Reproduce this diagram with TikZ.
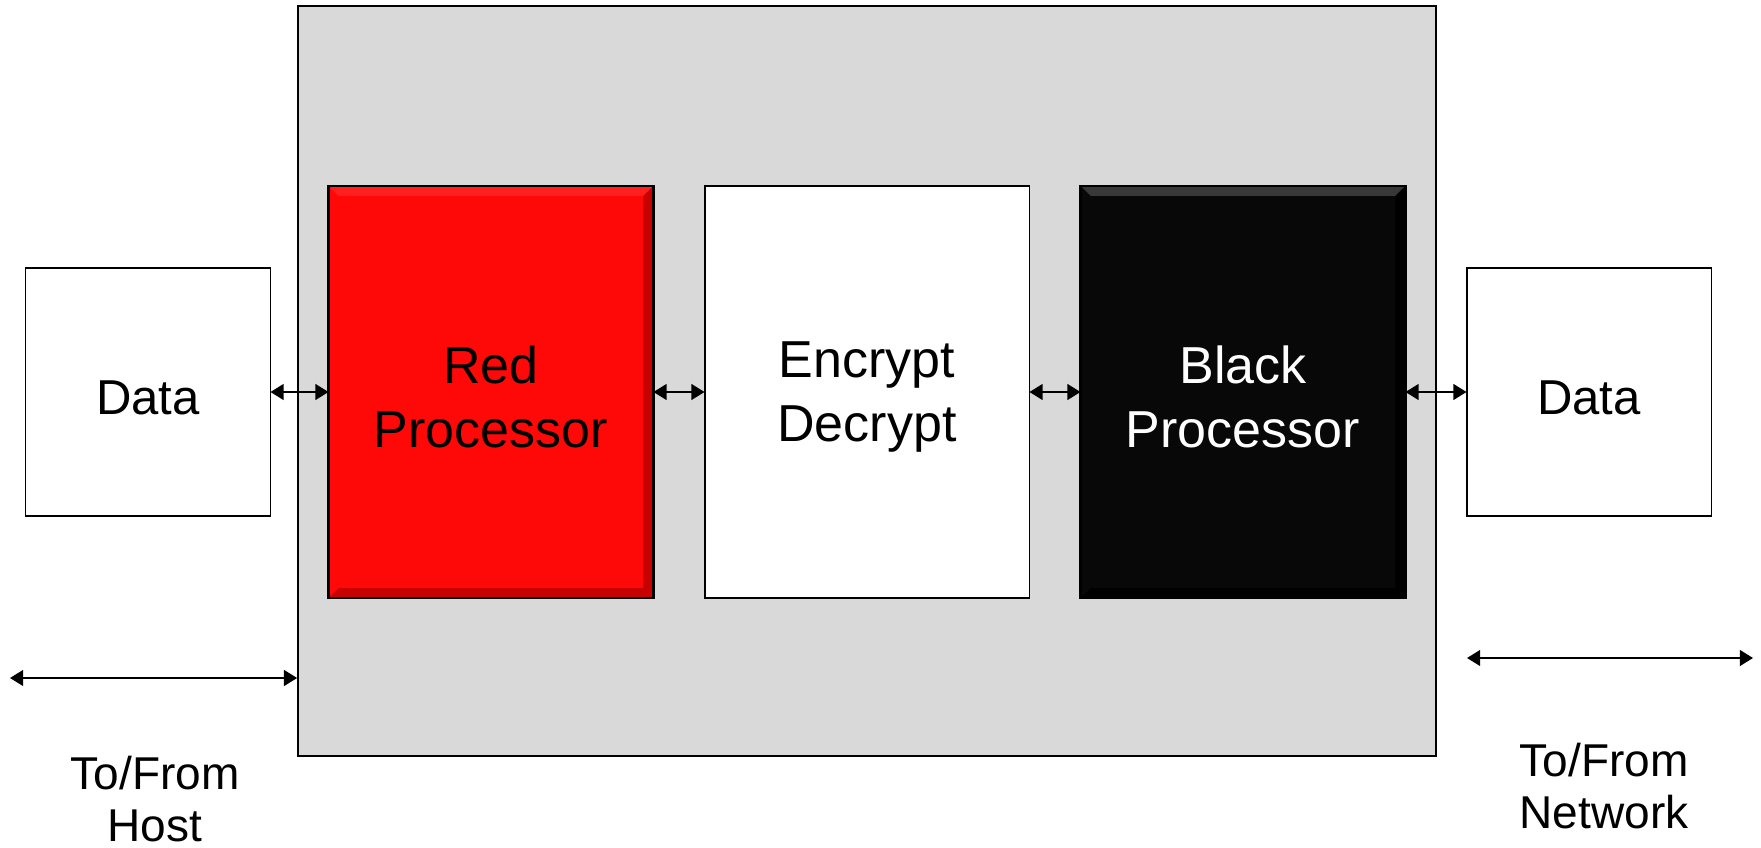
\documentclass[tikz,border=0pt]{standalone}
\usepackage{fontspec}
\setmainfont{Liberation Sans}
\usetikzlibrary{arrows.meta}

\definecolor{panelgrey}{RGB}{217,217,217}
\definecolor{redfill}{RGB}{255,8,8}
\definecolor{blackfill}{RGB}{8,8,8}

% raised edge round a processor box
\newcommand{\bevelbox}[3]{%
  \fill[#2] (#1.north west) -- (#1.north east) -- ([shift={(-10,10)}]#1.north east) -- ([shift={(10,10)}]#1.north west) -- cycle;
  \fill[#3] (#1.south west) -- (#1.south east) -- ([shift={(-10,-10)}]#1.south east) -- ([shift={(10,-10)}]#1.south west) -- cycle;
  \fill[#3] (#1.north east) -- (#1.south east) -- ([shift={(-10,-10)}]#1.south east) -- ([shift={(-10,10)}]#1.north east) -- cycle;
  \draw[black, line width=1.2pt] (#1.north west) rectangle (#1.south east);
}

\tikzset{
  databox/.style={draw, fill=white, line width=1.1pt, inner sep=0pt, outer sep=0pt,
    minimum width=4.9cm, minimum height=4.96cm, text height=26pt, text depth=0pt,
    font=\fontsize{27.9}{34}\selectfont},
  procbox/.style={inner sep=0pt, outer sep=0pt, align=center,
    minimum width=6.5cm, minimum height=8.25cm, font=\fontsize{29.6}{36.4}\selectfont},
  proctext/.style={procbox, yshift=-3pt},
  link/.style={{Triangle[length=7.5pt,width=9pt]}-{Triangle[length=7.5pt,width=9pt]}, line width=1.1pt},
  sidelabel/.style={align=center, font=\fontsize{26.2}{29.6}\selectfont}
}

\begin{document}
\begin{tikzpicture}[x=0.02cm, y=-0.02cm]
\useasboundingbox (0,0) rectangle (1761,848);

\node[draw, fill=panelgrey, line width=1.1pt, inner sep=0pt, minimum width=22.76cm, minimum height=15cm] (panel) at (867,381) {};

\node[databox] (hostdata) at (148,392) {Data};
\node[procbox, fill=redfill] (redproc) at (491,392) {};
\bevelbox{redproc}{red!88!white}{red!78!black}
\node[procbox, fill=white, draw, line width=1.1pt] (crypto) at (867,392) {};
\node[procbox, fill=blackfill] (blackproc) at (1243,392) {};
\bevelbox{blackproc}{black!78!white}{black}
\node[databox] (netdata) at (1589,392) {Data};

% box texts on top of the bevels
\node[proctext] (redtext) at (redproc) {Red\\Processor};
\node[proctext] (cryptotext) at (crypto) {Encrypt\\Decrypt};
\node[proctext, text=white] (blacktext) at (blackproc) {Black\\Processor};

\draw[link] (hostdata) -- (redproc);
\draw[link] (redproc) -- (crypto);
\draw[link] (crypto) -- (blackproc);
\draw[link] (blackproc) -- (netdata);

\coordinate (hostend) at (10,678);
\draw[link] (hostend) -- (panel.west |- hostend);
\coordinate (netstart) at (1467,658);
\coordinate (netend) at (1753,658);
\draw[link] (netstart) -- (netend);

\node[sidelabel] (hostlabel) at (155,799) {To/From\\Host};
\node[sidelabel] (netlabel) at (1604,786) {To/From\\Network};
\end{tikzpicture}
\end{document}
